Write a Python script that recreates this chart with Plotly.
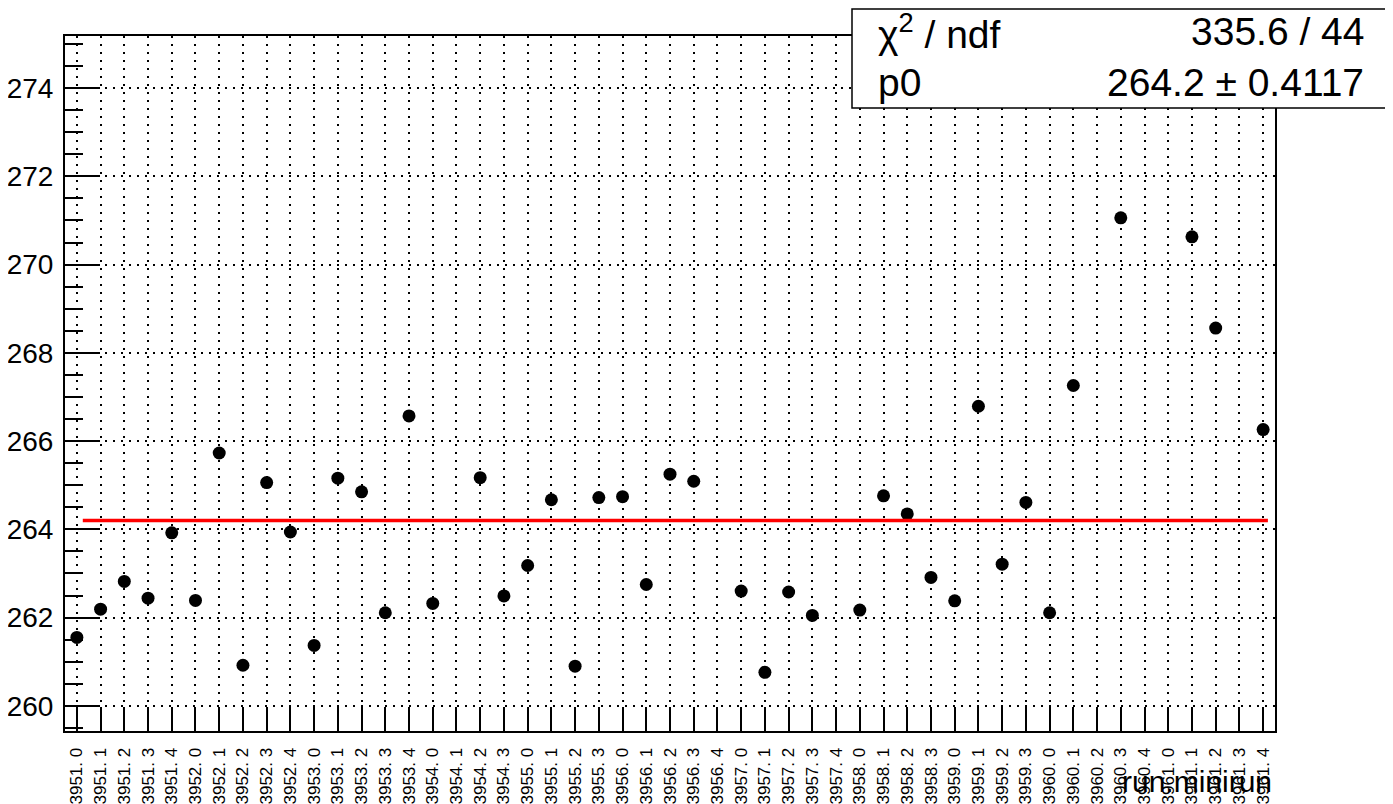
import plotly.graph_objects as go

# ---------------- data ----------------
runs = [3951, 3951, 3951, 3951, 3951,
        3952, 3952, 3952, 3952, 3952,
        3953, 3953, 3953, 3953, 3953,
        3954, 3954, 3954, 3954,
        3955, 3955, 3955, 3955,
        3956, 3956, 3956, 3956, 3956,
        3957, 3957, 3957, 3957, 3957,
        3958, 3958, 3958, 3958,
        3959, 3959, 3959, 3959,
        3960, 3960, 3960, 3960, 3960,
        3961, 3961, 3961, 3961, 3961]
miniruns = [0, 1, 2, 3, 4,
            0, 1, 2, 3, 4,
            0, 1, 2, 3, 4,
            0, 1, 2, 3,
            0, 1, 2, 3,
            0, 1, 2, 3, 4,
            0, 1, 2, 3, 4,
            0, 1, 2, 3,
            0, 1, 2, 3,
            0, 1, 2, 3, 4,
            0, 1, 2, 3, 4]
tick_labels = [f"{r}. {m}" for r, m in zip(runs, miniruns)]

values = [261.55, 262.19, 262.82, 262.44, 263.92,
          262.39, 265.73, 260.92, 265.06, 263.94,
          261.37, 265.16, 264.85, 262.11, 266.57,
          262.32, None, 265.17, 262.49,
          263.18, 264.67, 260.90, 264.72,
          264.74, 262.75, 265.25, 265.09, None,
          262.60, 260.76, 262.58, 262.05, None,
          262.17, 264.76, 264.35, 262.91,
          262.38, 266.79, 263.21, 264.61,
          262.11, 267.26, None, 271.06, None,
          None, 270.63, 268.56, None, 266.26]

fit_p0 = 264.2
fit_range = [0.25, 50.2]
stat_labels = ["χ<sup>2</sup> / ndf", "p0"]
stat_values = ["335.6 / 44", "264.2 ± 0.4117"]
x_title = "run.minirun"

# ---------------- layout geometry (pixels, page coordinates) ----------------
OFF = 8                      # default page body margin
W, H = 1393 - OFF, 804 - OFF
L, R_EDGE, T, B_EDGE = 65, 1275, 36, 731
PW, PH = R_EDGE - L, B_EDGE - T


def xp(px):
    return (px - L) / PW


def yp(py):
    return (B_EDGE - py) / PH


idx = list(range(len(tick_labels)))
FONT = "Liberation Sans, Arial, Helvetica, sans-serif"

fig = go.Figure()
fig.add_trace(go.Scatter(
    x=idx, y=values, mode="markers",
    marker=dict(color="black", size=13, symbol="circle"),
    showlegend=False, hoverinfo="skip"))
fig.add_trace(go.Scatter(
    x=fit_range, y=[fit_p0, fit_p0], mode="lines",
    line=dict(color="#ff0000", width=3.5),
    showlegend=False, hoverinfo="skip"))

fig.update_layout(
    width=W, height=H,
    margin=dict(l=L - OFF, r=W - (R_EDGE - OFF), t=T - OFF,
                b=H - (B_EDGE - OFF), pad=0, autoexpand=False),
    paper_bgcolor="white", plot_bgcolor="white",
    font=dict(family=FONT, color="black"),
    showlegend=False,
)

fig.update_xaxes(
    range=[-0.5, len(tick_labels) - 0.5],
    tickmode="array", tickvals=idx, ticktext=tick_labels,
    tickangle=-90, tickfont=dict(size=17, family=FONT, color="black"),
    ticks="inside", ticklen=24, tickwidth=1.5, tickcolor="black",
    ticklabelstandoff=8,
    showgrid=True, gridcolor="black", gridwidth=1.5, griddash="2px,6px",
    showline=True, linecolor="black", linewidth=2, mirror=True,
    zeroline=False, automargin=False,
)
fig.update_yaxes(
    range=[259.43, 275.18],
    tickmode="linear", tick0=260, dtick=2,
    tickfont=dict(size=28, family=FONT, color="black"),
    ticks="inside", ticklen=35, tickwidth=2, tickcolor="black",
    ticklabelstandoff=4,
    minor=dict(dtick=0.5, tick0=260, ticks="inside", ticklen=18,
               tickwidth=2, tickcolor="black", showgrid=False),
    showgrid=True, gridcolor="black", gridwidth=1.5, griddash="2px,6px",
    showline=True, linecolor="black", linewidth=2, mirror=True,
    zeroline=False, automargin=False,
)

# stat box
fig.add_shape(type="rect", xref="paper", yref="paper",
              x0=xp(852), x1=xp(1391), y0=yp(108), y1=yp(9),
              fillcolor="white", line=dict(color="black", width=1.5),
              layer="above")
row_y = [32, 83]
for lab, val, ry in zip(stat_labels, stat_values, row_y):
    fig.add_annotation(xref="paper", yref="paper", x=xp(876), y=yp(ry),
                       xanchor="left", yanchor="middle", text=lab,
                       showarrow=False, font=dict(size=39, family=FONT, color="black"))
    fig.add_annotation(xref="paper", yref="paper", x=xp(1366), y=yp(ry),
                       xanchor="right", yanchor="middle", text=val,
                       showarrow=False, font=dict(size=39, family=FONT, color="black"))

# x axis title (ROOT style, right aligned under the axis)
fig.add_annotation(xref="paper", yref="paper", x=xp(1274), y=yp(781),
                   xanchor="right", yanchor="middle", text=x_title,
                   showarrow=False, font=dict(size=30, family=FONT, color="black"))

fig.write_html("out.html")
